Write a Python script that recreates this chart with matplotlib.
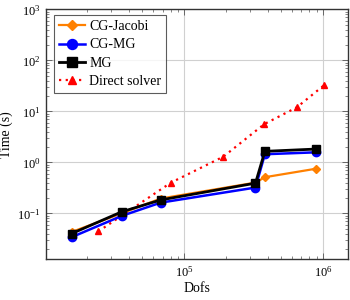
import matplotlib
matplotlib.use("Agg")
import matplotlib.pyplot as plt
from matplotlib.ticker import LogLocator, NullFormatter

plt.rcParams['font.family'] = ['Liberation Serif', 'DejaVu Serif']
plt.rcParams['mathtext.fontset'] = 'stix'

dofs = [15500, 35600, 68000, 327000, 382000, 896000]
cg_jacobi = [0.043, 0.10, 0.195, 0.40, 0.51, 0.75]
cg_mg = [0.034, 0.089, 0.162, 0.32, 1.44, 1.57]
mg = [0.040, 0.107, 0.183, 0.39, 1.64, 1.82]
direct_dofs = [24100, 80600, 192000, 378000, 650000, 1020000]
direct = [0.044, 0.40, 1.29, 5.6, 12.0, 32.5]

fig = plt.figure(figsize=(3.5, 3.0), dpi=100)
ax = fig.add_axes([0.131, 0.136, 0.863, 0.833])

ax.plot(dofs, cg_jacobi, color='#FF8000', lw=1.6, marker='D', ms=4.5, label='CG-Jacobi', zorder=3)
ax.plot(dofs, cg_mg, color='#0000FF', lw=1.8, marker='o', ms=6, label='CG-MG', zorder=4)
ax.plot(dofs, mg, color='black', lw=2.0, marker='s', ms=6, label='MG', zorder=5)
ax.plot(direct_dofs, direct, color='#FF0000', lw=1.6, ls=(0, (1, 2)), marker='^', ms=5,
        label='Direct solver', zorder=2)

ax.set_xscale('log')
ax.set_yscale('log')
ax.set_xlim(10**4.005, 10**6.18)
ax.set_ylim(10**-1.9, 1e3)

ax.xaxis.set_major_locator(LogLocator(base=10, numticks=10))
ax.xaxis.set_minor_locator(LogLocator(base=10, subs=range(2, 10), numticks=20))
ax.yaxis.set_major_locator(LogLocator(base=10, numticks=10))
ax.yaxis.set_minor_locator(LogLocator(base=10, subs=range(2, 10), numticks=20))
ax.xaxis.set_minor_formatter(NullFormatter())
ax.yaxis.set_minor_formatter(NullFormatter())

ax.tick_params(which='both', direction='in', top=True, right=True, labelsize=9, pad=4)
ax.tick_params(which='major', length=4, width=0.6, color='#555555')
ax.tick_params(which='minor', length=2.5, width=0.5, color='#555555')
ax.grid(True, which='major', color='#d0d0d0', lw=0.8)
for s in ax.spines.values():
    s.set_linewidth(1.0)
    s.set_color('#333333')

ax.set_xlabel('Dofs', fontsize=10, labelpad=2)
ax.set_ylabel('Time (s)', fontsize=10, labelpad=3)

leg = ax.legend(loc='upper left', fontsize=10, frameon=True, fancybox=False,
                edgecolor='#333333', handlelength=1.9, borderpad=0.35,
                labelspacing=0.38, handletextpad=0.3, borderaxespad=0,
                bbox_to_anchor=(0.026, 0.976), markerscale=1.2)
leg.get_frame().set_linewidth(0.8)

fig.savefig('out.png', dpi=100)
